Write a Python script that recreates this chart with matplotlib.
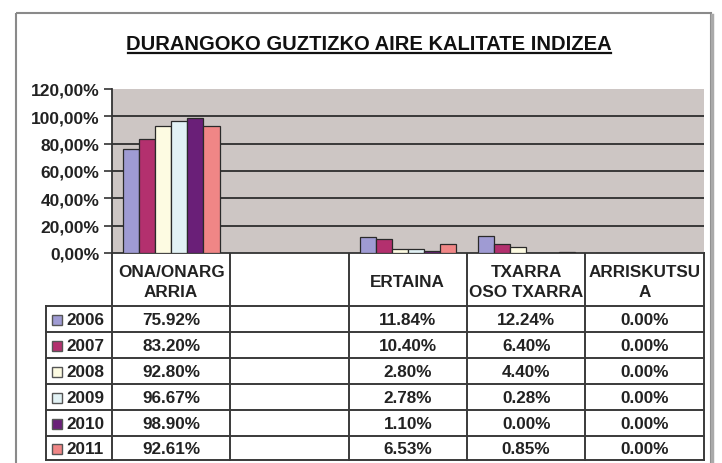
import numpy as np
import matplotlib
matplotlib.use("Agg")
import matplotlib.pyplot as plt
from matplotlib.patches import Rectangle

plt.rcParams['font.family'] = ['Liberation Sans', 'DejaVu Sans']

title = "DURANGOKO GUZTIZKO AIRE KALITATE INDIZEA"
categories = ["ONA/ONARG\nARRIA", "", "ERTAINA", "TXARRA\nOSO TXARRA", "ARRISKUTSU\nA"]
years = ["2006", "2007", "2008", "2009", "2010", "2011"]
v2006 = [75.92, None, 11.84, 12.24, 0.00]
v2007 = [83.20, None, 10.40, 6.40, 0.00]
v2008 = [92.80, None, 2.80, 4.40, 0.00]
v2009 = [96.67, None, 2.78, 0.28, 0.00]
v2010 = [98.90, None, 1.10, 0.00, 0.00]
v2011 = [92.61, None, 6.53, 0.85, 0.00]
series = [v2006, v2007, v2008, v2009, v2010, v2011]
colors = ["#9f9bd3", "#b3306e", "#fdfbe2", "#e2f2f5", "#6a1f78", "#f08686"]
yticks = [0, 20, 40, 60, 80, 100, 120]

W, H = 722, 464
fig = plt.figure(figsize=(W / 100, H / 100), dpi=100)
fig.patch.set_facecolor("white")

# overlay axes in pixel coordinates for frame/table
ov = fig.add_axes([0, 0, 1, 1])
ov.set_xlim(0, W)
ov.set_ylim(H, 0)
ov.axis("off")

# outer chart frame
ov.add_patch(Rectangle((16, 14), 695, 470, fill=False, edgecolor="#8a8a8a", lw=1.5))
ov.plot([712, 712], [16, 464], color="#aaaaaa", lw=2.5)

ov.text(369, 44, title, ha="center", va="center", fontsize=14.5,
        fontweight="bold", color="#111111")
ov.plot([128, 611], [53.5, 53.5], color="#111111", lw=1.6)

# plot area
x_left, x_right, y_top, y_bot = 112, 704, 90, 254
ax = fig.add_axes([x_left / W, 1 - y_bot / H, (x_right - x_left) / W, (y_bot - y_top) / H])
ax.set_facecolor("#cdc6c4")
n = len(categories)
ax.set_xlim(-0.5, n - 0.5)
ax.set_ylim(0, 120)
bw = 0.136
x = np.arange(n)
for i, (vals, c) in enumerate(zip(series, colors)):
    arr = np.array([np.nan if v is None else v for v in vals], dtype=float)
    ax.bar(x + (i - 2.5) * bw, arr, width=bw, color=c, edgecolor="#2a2a2a",
           linewidth=0.9, zorder=3)
ax.set_yticks(yticks)
ax.set_yticklabels([f"{t:.2f}%".replace(".", ",") for t in yticks],
                   fontsize=12.5, fontweight="bold", color="#222222")
for t in yticks[1:-1]:
    ax.axhline(t, color="#2e2e2e", lw=1.3, zorder=1)
ax.set_xticks([])
ax.tick_params(axis="y", length=6, width=1.2, color="#333333", pad=3)
for s in ["top", "right"]:
    ax.spines[s].set_visible(False)
ax.spines["left"].set_color("#333333")
ax.spines["left"].set_linewidth(1.3)
ax.spines["bottom"].set_color("#333333")
ax.spines["bottom"].set_linewidth(1.3)

# data table
col_edges = [112, 230.3, 348.6, 467, 585.3, 703.6]
row_edges = [254, 307, 333, 359, 385, 411, 437, 461]
lab_left = 46
lc = "#3a3a3a"
for xe in col_edges:
    ov.plot([xe, xe], [row_edges[0], row_edges[-1]], color=lc, lw=1.4)
ov.plot([lab_left, lab_left], [row_edges[1], row_edges[-1]], color=lc, lw=1.4)
for ye in row_edges[1:]:
    ov.plot([lab_left, col_edges[-1]], [ye, ye], color=lc, lw=1.4)

tfs = 12.3
for j, cat in enumerate(categories):
    cx = (col_edges[j] + col_edges[j + 1]) / 2
    ov.text(cx, (row_edges[0] + row_edges[1]) / 2 + 2, cat, ha="center", va="center",
            fontsize=tfs, fontweight="bold", color="#222222", linespacing=1.45)
for i, (vals, c, yr) in enumerate(zip(series, colors, years)):
    cy = (row_edges[i + 1] + row_edges[i + 2]) / 2 + 1
    ov.add_patch(Rectangle((51.5, cy - 5), 10, 10, facecolor=c, edgecolor="#555555", lw=1))
    ov.text(66, cy, yr, ha="left", va="center", fontsize=tfs, fontweight="bold", color="#222222")
    for j, v in enumerate(vals):
        if v is None:
            continue
        cx = (col_edges[j] + col_edges[j + 1]) / 2
        ov.text(cx, cy, f"{v:.2f}%", ha="center", va="center", fontsize=tfs,
                fontweight="bold", color="#222222")

fig.savefig("out.png", dpi=100)
